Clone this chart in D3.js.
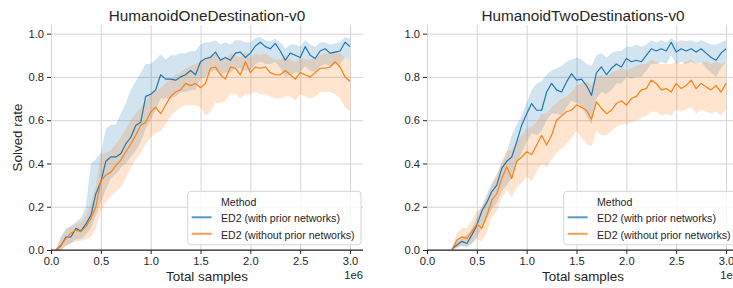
<!DOCTYPE html>
<html>
<head>
<meta charset="utf-8">
<script src="https://cdn.jsdelivr.net/npm/d3@7"></script>
<style>
    body { margin: 0; background: #fff; }
    svg { display: block; font-family: "Liberation Sans", Arial, sans-serif; }
</style>
</head>
<body>
<svg id="chart" width="733" height="288"></svg>
<script>
// samples in units of 1e6
const ONE_X = [0.05, 0.10, 0.15, 0.20, 0.25, 0.30, 0.35, 0.40, 0.45, 0.50,
    0.55, 0.60, 0.65, 0.70, 0.75, 0.80, 0.85, 0.90, 0.95, 1.00,
    1.05, 1.10, 1.15, 1.20, 1.25, 1.30, 1.35, 1.40, 1.45, 1.50,
    1.55, 1.60, 1.65, 1.70, 1.75, 1.80, 1.85, 1.90, 1.95, 2.00,
    2.05, 2.10, 2.15, 2.20, 2.25, 2.30, 2.35, 2.40, 2.45, 2.50,
    2.55, 2.60, 2.65, 2.70, 2.75, 2.80, 2.85, 2.90, 2.95, 3.00];

const ONE_PRIOR_MEAN = [0, .02, .06, .06, .10, .088, .12, .16, .26, .315,
    .41, .43, .43, .445, .49, .52, .575, .59, .71, .72,
    .74, .81, .79, .79, .785, .80, .81, .83, .81, .87,
    .885, .89, .915, .877, .89, .877, .91, .915, .89, .91,
    .943, .96, .94, .93, .955, .92, .877, .91, .90, .89,
    .94, .90, .885, .92, .93, .91, .915, .92, .96, .94];
const ONE_PRIOR_LO = [0, 0, .02, .03, .05, .05, .07, .10, .16, .22,
    .28, .33, .35, .38, .40, .43, .46, .50, .56, .60,
    .65, .70, .70, .70, .71, .73, .73, .74, .74, .79,
    .80, .82, .83, .81, .82, .82, .84, .84, .83, .83,
    .86, .87, .86, .86, .87, .84, .80, .81, .82, .82,
    .85, .83, .82, .85, .86, .85, .86, .86, .89, .88];
const ONE_PRIOR_HI = [0, .06, .10, .11, .13, .15, .20, .40, .42, .45,
    .56, .58, .58, .63, .68, .74, .78, .82, .86, .86,
    .88, .905, .88, .90, .90, .91, .91, .92, .92, .95,
    .96, .96, .97, .95, .96, .95, .97, .97, .96, .96,
    .98, .985, .97, .965, .975, .96, .93, .95, .95, .94,
    .97, .95, .94, .96, .96, .95, .955, .96, .985, .975];

const ONE_NOPRIOR_MEAN = [0, .023, .054, .077, .092, .085, .108, .146, .20, .32,
    .346, .36, .39, .415, .454, .49, .53, .577, .59, .638,
    .66, .63, .67, .71, .73, .74, .77, .76, .77, .75,
    .77, .84, .846, .81, .79, .846, .84, .81, .87, .82,
    .846, .84, .846, .82, .81, .81, .83, .81, .79, .82,
    .81, .80, .82, .84, .84, .846, .87, .846, .80, .78];
const ONE_NOPRIOR_LO = [0, 0, .02, .03, .04, .04, .05, .06, .10, .18,
    .22, .25, .27, .29, .33, .38, .42, .45, .49, .52,
    .54, .55, .58, .62, .64, .66, .67, .67, .67, .66,
    .62, .64, .68, .68, .69, .72, .72, .70, .72, .72,
    .73, .72, .72, .71, .70, .70, .71, .71, .69, .72,
    .71, .70, .71, .73, .73, .73, .72, .70, .66, .64];
const ONE_NOPRIOR_HI = [.01, .06, .09, .11, .12, .13, .16, .22, .30, .44,
    .45, .46, .49, .52, .56, .60, .63, .66, .69, .72,
    .74, .75, .77, .79, .81, .82, .84, .85, .86, .87,
    .88, .90, .91, .89, .88, .91, .90, .89, .92, .89,
    .91, .90, .91, .89, .88, .88, .90, .88, .87, .89,
    .88, .88, .89, .90, .91, .91, .92, .91, .89, .88];

const TWO_X = [0.25, 0.30, 0.35, 0.40, 0.45, 0.50, 0.55, 0.60, 0.65, 0.70,
    0.75, 0.80, 0.85, 0.90, 0.95, 1.00, 1.05, 1.10, 1.15, 1.20,
    1.25, 1.30, 1.35, 1.40, 1.45, 1.50, 1.55, 1.60, 1.65, 1.70,
    1.75, 1.80, 1.85, 1.90, 1.95, 2.00, 2.05, 2.10, 2.15, 2.20,
    2.25, 2.30, 2.35, 2.40, 2.45, 2.50, 2.55, 2.60, 2.65, 2.70,
    2.75, 2.80, 2.85, 2.90, 2.95, 3.00];

const TWO_PRIOR_MEAN = [.005, .023, .04, .03, .07, .115, .18, .22, .27, .30,
    .377, .41, .43, .50, .577, .63, .677, .646, .646, .73,
    .77, .74, .73, .777, .815, .785, .79, .76, .715, .82,
    .846, .81, .84, .86, .846, .885, .87, .877, .87, .90,
    .93, .92, .93, .92, .96, .915, .93, .92, .93, .915,
    .93, .91, .89, .877, .91, .93];
const TWO_PRIOR_LO = [0, .01, .02, .01, .03, .06, .10, .14, .19, .22,
    .27, .30, .33, .40, .45, .50, .54, .53, .55, .60,
    .63, .63, .62, .66, .69, .68, .66, .62, .58, .70,
    .73, .72, .74, .77, .77, .80, .79, .80, .80, .83,
    .86, .86, .87, .86, .90, .86, .87, .86, .87, .86,
    .87, .84, .82, .80, .84, .87];
const TWO_PRIOR_HI = [.01, .04, .06, .07, .10, .15, .20, .26, .31, .35,
    .40, .45, .53, .58, .62, .68, .74, .77, .78, .81,
    .83, .84, .85, .87, .88, .89, .88, .86, .85, .90,
    .91, .89, .91, .92, .92, .94, .94, .95, .94, .95,
    .97, .96, .97, .96, .98, .96, .97, .965, .97, .96,
    .97, .96, .95, .95, .96, .97];

const TWO_NOPRIOR_MEAN = [0, .046, .06, .054, .085, .12, .10, .16, .23, .26,
    .33, .385, .33, .41, .43, .454, .44, .485, .53, .485,
    .53, .60, .62, .64, .646, .67, .66, .646, .605, .685,
    .654, .63, .646, .677, .69, .67, .70, .71, .74, .746,
    .785, .77, .74, .746, .73, .77, .746, .76, .785, .746,
    .77, .754, .74, .76, .73, .77];
const TWO_NOPRIOR_LO = [0, .01, .02, .02, .03, .05, .04, .08, .15, .18,
    .24, .28, .24, .29, .31, .34, .32, .36, .40, .38,
    .42, .45, .47, .49, .52, .55, .52, .49, .48, .55,
    .53, .53, .55, .57, .58, .58, .59, .60, .61, .62,
    .64, .64, .62, .63, .62, .65, .64, .65, .66, .63,
    .65, .64, .63, .64, .62, .65];
const TWO_NOPRIOR_HI = [.01, .08, .10, .10, .14, .18, .20, .24, .30, .34,
    .41, .46, .46, .50, .53, .56, .57, .59, .63, .63,
    .66, .68, .70, .71, .73, .76, .77, .78, .76, .80,
    .81, .80, .82, .83, .84, .83, .84, .85, .86, .86,
    .88, .87, .86, .86, .86, .87, .86, .87, .88, .86,
    .87, .87, .86, .87, .86, .87];

const TITLES = ["HumanoidOneDestination-v0", "HumanoidTwoDestinations-v0"];
const METHODS = ["ED2 (with prior networks)", "ED2 (without prior networks)"];
const X_TICKS = [0, 0.5, 1.0, 1.5, 2.0, 2.5, 3.0];
const Y_TICKS = [0, 0.2, 0.4, 0.6, 0.8, 1.0];

const COLORS = ["#1f77b4", "#ff7f0e"];
const TEXT = "#262626";
const GRID = "#d5d5d5";

const PLOT_TOP = 25;
const PLOT_BOTTOM = 250;
const PLOT_WIDTH = 312;

/**
 * Build the list of points for one series.
 */
function series(xs, mean, lo, hi) {
    return xs.map((x, i) => ({ x: x, y: mean[i], lo: lo[i], hi: hi[i] }));
}

const panels = [
    {
        title: TITLES[0],
        left: 51,
        yLabel: "Solved rate",
        series: [
            series(ONE_X, ONE_PRIOR_MEAN, ONE_PRIOR_LO, ONE_PRIOR_HI),
            series(ONE_X, ONE_NOPRIOR_MEAN, ONE_NOPRIOR_LO, ONE_NOPRIOR_HI),
        ],
    },
    {
        title: TITLES[1],
        left: 427,
        yLabel: null,
        series: [
            series(TWO_X, TWO_PRIOR_MEAN, TWO_PRIOR_LO, TWO_PRIOR_HI),
            series(TWO_X, TWO_NOPRIOR_MEAN, TWO_NOPRIOR_LO, TWO_NOPRIOR_HI),
        ],
    },
];

const svg = d3.select("#chart");

/**
 * Draw one subplot: grid, bands, lines, axes, legend.
 */
function drawPanel(panel) {
    let left = panel.left;
    let right = left + PLOT_WIDTH;

    let x = d3.scaleLinear().domain([0, 3.13]).range([left, right]);
    let y = d3.scaleLinear().domain([0, 1.04]).range([PLOT_BOTTOM, PLOT_TOP]);

    let g = svg.append("g");

    // grid
    g.append("g")
        .attr("transform", `translate(0,${PLOT_BOTTOM})`)
        .call(d3.axisBottom(x).tickValues(X_TICKS).tickSize(-(PLOT_BOTTOM - PLOT_TOP)).tickFormat(""))
        .call(a => a.select(".domain").remove())
        .call(a => a.selectAll("line").attr("stroke", GRID).attr("stroke-width", 1));
    g.append("g")
        .attr("transform", `translate(${left},0)`)
        .call(d3.axisLeft(y).tickValues(Y_TICKS).tickSize(-PLOT_WIDTH).tickFormat(""))
        .call(a => a.select(".domain").remove())
        .call(a => a.selectAll("line").attr("stroke", GRID).attr("stroke-width", 1));

    let area = d3.area()
        .x(d => x(d.x))
        .y0(d => y(d.lo))
        .y1(d => y(d.hi));
    let line = d3.line()
        .x(d => x(d.x))
        .y(d => y(d.y));

    panel.series.forEach((s, i) => {
        g.append("path")
            .datum(s)
            .attr("d", area)
            .attr("fill", COLORS[i])
            .attr("fill-opacity", 0.2)
            .attr("stroke", "none");
    });
    panel.series.forEach((s, i) => {
        g.append("path")
            .datum(s)
            .attr("d", line)
            .attr("fill", "none")
            .attr("stroke", COLORS[i])
            .attr("stroke-width", 1.2)
            .attr("stroke-linejoin", "round");
    });

    // x axis with bottom spine
    let xAxis = g.append("g")
        .attr("transform", `translate(0,${PLOT_BOTTOM})`)
        .call(d3.axisBottom(x).tickValues(X_TICKS).tickSize(4).tickPadding(3).tickFormat(d3.format(".1f")));
    xAxis.select(".domain")
        .attr("d", `M${left},0H${right}`)
        .attr("stroke", TEXT)
        .attr("stroke-width", 1.25);
    xAxis.selectAll(".tick line").attr("stroke", TEXT);
    xAxis.selectAll(".tick text")
        .attr("fill", TEXT)
        .attr("font-size", 11.2)
        .attr("font-family", null);

    // y axis: ticks only, no spine
    let yAxis = g.append("g")
        .attr("transform", `translate(${left},0)`)
        .call(d3.axisLeft(y).tickValues(Y_TICKS).tickSize(4).tickPadding(3).tickFormat(d3.format(".1f")));
    yAxis.select(".domain").remove();
    yAxis.selectAll(".tick line").attr("stroke", TEXT);
    yAxis.selectAll(".tick text")
        .attr("fill", TEXT)
        .attr("font-size", 11.2)
        .attr("font-family", null);

    // titles and labels
    let mid = (left + right) / 2;
    g.append("text")
        .attr("x", mid)
        .attr("y", 20.5)
        .attr("text-anchor", "middle")
        .attr("font-size", 15.3)
        .attr("fill", TEXT)
        .text(panel.title);
    g.append("text")
        .attr("x", mid)
        .attr("y", 281)
        .attr("text-anchor", "middle")
        .attr("font-size", 13.4)
        .attr("fill", TEXT)
        .text("Total samples");
    g.append("text")
        .attr("x", right)
        .attr("y", 278.5)
        .attr("text-anchor", "end")
        .attr("font-size", 11.2)
        .attr("fill", TEXT)
        .text("1e6");
    if (panel.yLabel) {
        g.append("text")
            .attr("transform", `translate(22,${(PLOT_TOP + PLOT_BOTTOM) / 2}) rotate(-90)`)
            .attr("text-anchor", "middle")
            .attr("font-size", 13.4)
            .attr("fill", TEXT)
            .text(panel.yLabel);
    }

    drawLegend(g, right - 175.3, 191.3);
}

/**
 * Seaborn-style legend, hue title as first row.
 */
function drawLegend(g, lx, ly) {
    let legend = g.append("g").attr("transform", `translate(${lx},${ly})`);
    legend.append("rect")
        .attr("width", 173.3)
        .attr("height", 53.4)
        .attr("rx", 3)
        .attr("fill", "#fff")
        .attr("fill-opacity", 0.8)
        .attr("stroke", "#cccccc")
        .attr("stroke-width", 0.8);
    legend.append("text")
        .attr("x", 33.3)
        .attr("y", 15)
        .attr("font-size", 10.6)
        .attr("fill", TEXT)
        .text("Method");
    METHODS.forEach((m, i) => {
        let rowY = 26 + i * 16.5;
        legend.append("line")
            .attr("x1", 4)
            .attr("x2", 24)
            .attr("y1", rowY)
            .attr("y2", rowY)
            .attr("stroke", COLORS[i])
            .attr("stroke-opacity", 0.75)
            .attr("stroke-width", 2);
        legend.append("text")
            .attr("x", 33.3)
            .attr("y", rowY + 5)
            .attr("font-size", 10.6)
            .attr("fill", TEXT)
            .text(m);
    });
}

panels.forEach(drawPanel);
</script>
</body>
</html>
